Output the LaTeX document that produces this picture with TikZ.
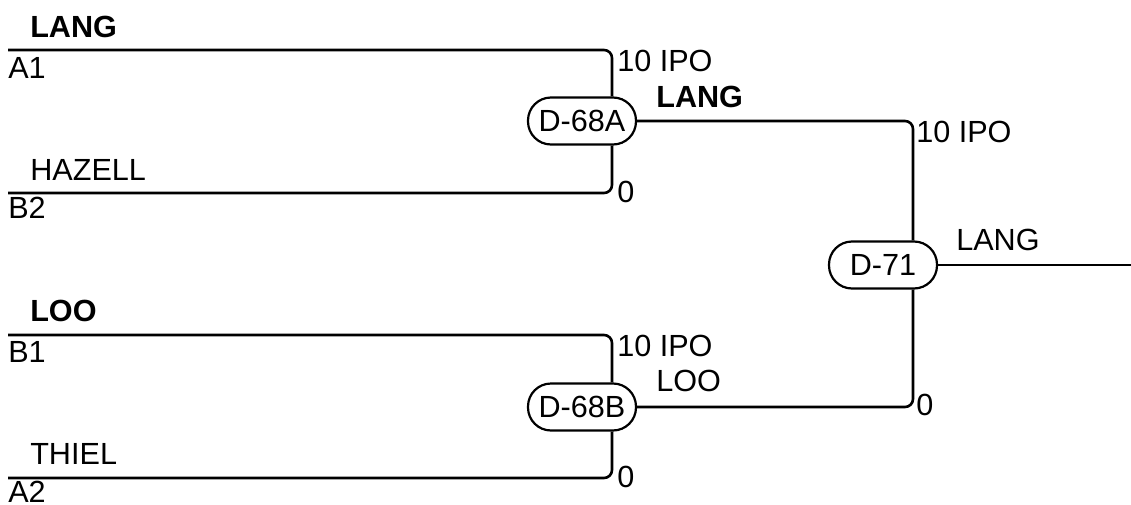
\documentclass[tikz,border=0pt]{standalone}
\usepackage{fontspec}
\setmainfont{Liberation Sans}
\usetikzlibrary{positioning}

\begin{document}
\begin{tikzpicture}[x=0.5pt, y=-0.5pt,
    line width=1.3pt,
    every node/.style={font=\fontsize{15.3}{18}\selectfont},
    match/.style={draw, rectangle, rounded corners=11.5pt, minimum width=54pt,
      minimum height=23.5pt, inner sep=0pt, line width=1.1pt},
    lbl/.style={anchor=west, inner sep=0pt},
    boldlbl/.style={lbl, font=\fontsize{15.3}{18}\selectfont\bfseries}]
    \useasboundingbox (0,0) rectangle (1131,504);
    % entries
    \coordinate (a1) at (8,50);
    \coordinate (b2) at (8,193);
    \coordinate (b1) at (8,335);
    \coordinate (a2) at (8,478);
    \coordinate (out) at (1131,265);
    % matches
    \node[match] (d68a) at (582,121) {D-68A};
    \node[match] (d68b) at (582,407) {D-68B};
    \node[match] (d71) at (883,265) {D-71};
\begin{scope}[rounded corners=4pt]
    \draw (a1) -| ([xshift=15pt]d68a.north);
    \draw (b2) -| ([xshift=15pt]d68a.south);
    \draw (b1) -| ([xshift=15pt]d68b.north);
    \draw (a2) -| ([xshift=15pt]d68b.south);
    \draw (d68a.east) -| ([xshift=15pt]d71.north);
    \draw (d68b.east) -| ([xshift=15pt]d71.south);
\end{scope}
    \draw (d71.east) -- (out);
    % names
    \node[boldlbl] (langA) at (29,27) {LANG};
    \node[lbl] (a1txt) at (7,68) {A1};
    \node[lbl] (hazell) at (29,170) {HAZELL};
    \node[lbl] (b2txt) at (7,208) {B2};
    \node[boldlbl] (looA) at (29,311) {LOO};
    \node[lbl] (b1txt) at (7,352) {B1};
    \node[lbl] (thiel) at (29,454) {THIEL};
    \node[lbl] (a2txt) at (7,492) {A2};
    % scores
    \node[lbl] (sA1) at (616,61) {10 IPO};
    \node[lbl] (sA2) at (616,192) {0};
    \node[boldlbl] (langB) at (655,97) {LANG};
    \node[lbl] (sB1) at (616,346) {10 IPO};
    \node[lbl] (sB2) at (616,477) {0};
    \node[lbl] (looB) at (655,381) {LOO};
    \node[lbl] (sC1) at (915,132) {10 IPO};
    \node[lbl] (sC2) at (915,405) {0};
    \node[lbl] (langC) at (955,240) {LANG};
\end{tikzpicture}
\end{document}
